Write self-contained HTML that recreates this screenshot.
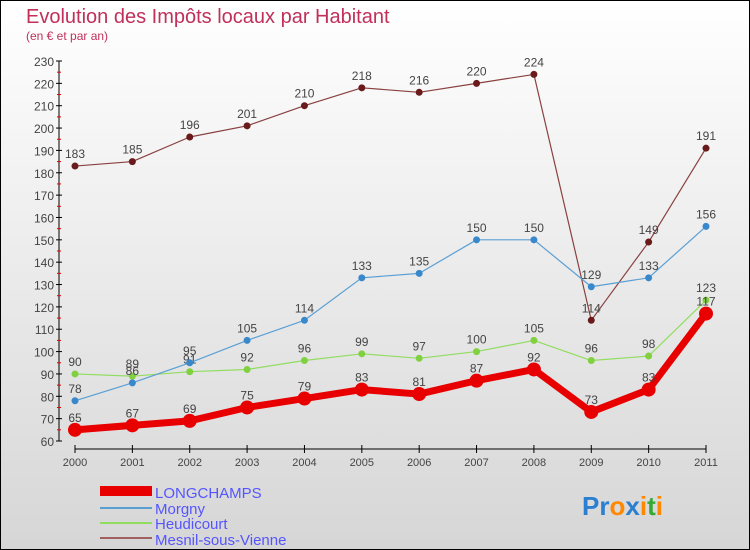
<!DOCTYPE html>
<html><head><meta charset="utf-8"><style>
html,body{margin:0;padding:0}
body{width:750px;height:550px;overflow:hidden;font-family:"Liberation Sans",sans-serif}
#wrap{position:absolute;left:0;top:0;width:748px;height:548px;border:1px solid #000;background:linear-gradient(#ffffff,#d6d6d6)}
</style></head><body>
<div id="wrap">
<svg id="chart" width="750" height="550" style="position:absolute;left:-1px;top:-1px">
<text x="26" y="23" font-size="20" fill="#c0305a">Evolution des Impôts locaux par Habitant</text>
<text x="26" y="40" font-size="12" fill="#c0305a">(en € et par an)</text>
<g id="axes"></g><g id="series"></g>
<g>
<rect x="100" y="486" width="52" height="10" fill="#e80000"/>
<text x="155" y="498" font-size="15" fill="#5555ff">LONGCHAMPS</text>
<line x1="100" y1="508" x2="152" y2="508" stroke="#5a9fd4" stroke-width="2"/>
<text x="155" y="514" font-size="15" fill="#5555ff">Morgny</text>
<line x1="100" y1="523" x2="152" y2="523" stroke="#90dd60" stroke-width="2"/>
<text x="155" y="529" font-size="15" fill="#5555ff">Heudicourt</text>
<line x1="100" y1="538" x2="152" y2="538" stroke="#a06060" stroke-width="2"/>
<text x="155" y="545" font-size="15" fill="#5555ff">Mesnil-sous-Vienne</text>
</g>
<text x="582" y="515" font-size="26" font-weight="bold"><tspan fill="#2a7fd0">Pr</tspan><tspan fill="#ff8800">o</tspan><tspan fill="#2a7fd0">x</tspan><tspan fill="#ff8800">i</tspan><tspan fill="#33aa33">t</tspan><tspan fill="#ff8800">i</tspan></text>
</svg>
</div>
<script>
const years=["2000","2001","2002","2003","2004","2005","2006","2007","2008","2009","2010","2011"];
const yTicks=[60,70,80,90,100,110,120,130,140,150,160,170,180,190,200,210,220,230];
const longchamps=[65,67,69,75,79,83,81,87,92,73,83,117];
const morgny=[78,86,95,105,114,133,135,150,150,129,133,156];
const heudicourt=[90,89,91,92,96,99,97,100,105,96,98,123];
const mesnil=[183,185,196,201,210,218,216,220,224,114,149,191];
const NS="http://www.w3.org/2000/svg";
function X(i){return 75+i*(631/11);}
function Y(v){return 441-(v-60)*(380/170);}
function mk(t,a,p){const e=document.createElementNS(NS,t);for(const k in a)e.setAttribute(k,a[k]);p.appendChild(e);return e;}
const ax=document.getElementById('axes');
const yl=mk('line',{x1:59,y1:Y(230),x2:59,y2:Y(60),stroke:'#000','stroke-width':1},ax);


yTicks.forEach(v=>{
 mk('line',{x1:56,y1:Y(v),x2:62,y2:Y(v),stroke:'#000'},ax);
 if(v<230) mk('line',{x1:57,y1:Y(v+5),x2:61,y2:Y(v+5),stroke:'#e00000'},ax);
 const t=mk('text',{x:54,y:Y(v)+5,'font-size':12,fill:'#444','text-anchor':'end'},ax);t.textContent=v;
 
 
});
const xl=mk('line',{x1:X(0),y1:449,x2:X(11),y2:449,stroke:'#000'},ax);


years.forEach((y,i)=>{
 mk('line',{x1:X(i),y1:445,x2:X(i),y2:453,stroke:'#000'},ax);
 const t=mk('text',{x:X(i),y:466,'font-size':11,fill:'#444','text-anchor':'middle'},ax);t.textContent=y;
 
 
});
const sg=document.getElementById('series');
function draw(data,name,color,width,r,dot){
 const g=mk('g',{},sg);
 
 
 mk('polyline',{points:data.map((v,i)=>X(i)+','+Y(v)).join(' '),fill:'none',stroke:color,'stroke-width':width,'stroke-linejoin':'round'},g);
 data.forEach((v,i)=>{
  const c=mk('circle',{cx:X(i),cy:Y(v),r:r,fill:dot},g);
  
  
  const t=mk('text',{x:X(i),y:Y(v)-8,'font-size':12,fill:'#444','text-anchor':'middle'},g);t.textContent=v;
  
  
 });
}
draw(mesnil,'mesnil','#8a4040',1.2,3.5,'#6a1a1a');
draw(heudicourt,'heudicourt','#90dd60',1.2,3.5,'#80d040');
draw(morgny,'morgny','#5a9fd4',1.2,3.5,'#3a88cc');
draw(longchamps,'longchamps','#e80000',7,7,'#e80000');
</script>
</body></html>
